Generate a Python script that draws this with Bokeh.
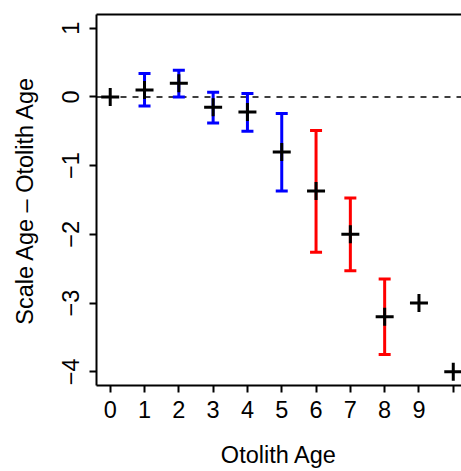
from bokeh.plotting import figure
from bokeh.models import Range1d, FixedTicker, LinearAxis, Span, ColumnDataSource
from bokeh.embed import file_html
from bokeh.resources import INLINE

# ---- data ----
otolith_age = [0, 1, 2, 3, 4, 5, 6, 7, 8, 9, 10]
mean_diff = [0.0, 0.1, 0.2, -0.15, -0.22, -0.8, -1.37, -2.0, -3.2, -3.0, -4.0]

bar_ages = [1, 2, 3, 4, 5, 6, 7, 8]
bar_low = [-0.13, 0.0, -0.38, -0.5, -1.37, -2.26, -2.53, -3.75]
bar_high = [0.34, 0.39, 0.07, 0.05, -0.24, -0.49, -1.47, -2.65]
bar_colors = ["#0000FF", "#0000FF", "#0000FF", "#0000FF", "#0000FF",
              "#FF0000", "#FF0000", "#FF0000"]

x_ticks = [0, 1, 2, 3, 4, 5, 6, 7, 8, 9, 10]
x_tick_labels = ["0", "1", "2", "3", "4", "5", "6", "7", "8", "9", ""]
y_ticks = [-4, -3, -2, -1, 0, 1]
y_tick_labels = ["\u22124", "\u22123", "\u22122", "\u22121", "0", "1"]

FONT = "Liberation Sans"
FS = "23.5px"

p = figure(width=461, height=471, output_backend="svg", toolbar_location=None,
           x_range=Range1d(-0.4, 10.24), y_range=Range1d(-4.2, 1.2),
           min_border_left=96, min_border_right=0, min_border_top=14,
           min_border_bottom=86, x_axis_label="Otolith Age",
           y_axis_label="Scale Age \u2013 Otolith Age")
p.outline_line_color = None
p.xgrid.visible = False
p.ygrid.visible = False
p.background_fill_color = "white"
p.border_fill_color = "white"

# axes
xa = p.xaxis[0]
xa.ticker = FixedTicker(ticks=x_ticks)
xa.major_label_overrides = {t: l for t, l in zip(x_ticks, x_tick_labels)}
ya = p.yaxis[0]
ya.ticker = FixedTicker(ticks=y_ticks)
ya.major_label_overrides = {t: l for t, l in zip(y_ticks, y_tick_labels)}
ya.major_label_orientation = "parallel"

for ax in (xa, ya):
    ax.axis_line_color = "black"
    ax.axis_line_width = 2
    ax.major_tick_line_color = "black"
    ax.major_tick_line_width = 2
    ax.major_tick_out = 7
    ax.major_tick_in = 0
    ax.minor_tick_line_color = None
    ax.major_label_text_font = FONT
    ax.major_label_text_font_size = FS
    ax.major_label_text_color = "black"
    ax.axis_label_text_font = FONT
    ax.axis_label_text_font_size = FS
    ax.axis_label_text_font_style = "normal"
    ax.axis_label_text_color = "black"
xa.major_label_standoff = 8
xa.axis_label_standoff = 21
ya.major_label_standoff = 10
ya.axis_label_standoff = 22

# top frame line
top = LinearAxis(ticker=FixedTicker(ticks=[0]), axis_line_color="black",
                 axis_line_width=2, major_tick_line_color=None,
                 minor_tick_line_color=None, major_tick_out=0, major_tick_in=0,
                 major_label_overrides={0: ""}, major_label_text_font_size="0px",
                 major_label_standoff=0)
p.add_layout(top, "above")

# reference line at zero
p.add_layout(Span(location=0, dimension="width", line_color="black",
                  line_width=1.6, line_dash="6 6", level="underlay"))

# error bars
bars = ColumnDataSource(dict(x=bar_ages, lo=bar_low, hi=bar_high, c=bar_colors))
p.segment(x0="x", y0="lo", x1="x", y1="hi", source=bars, line_color="c",
          line_width=3)
p.scatter(x="x", y="lo", source=bars, marker="dash", size=12, line_color="c",
          line_width=3)
p.scatter(x="x", y="hi", source=bars, marker="dash", size=12, line_color="c",
          line_width=3)

# means
p.scatter(x=otolith_age, y=mean_diff, marker="cross", size=18,
          line_color="black", line_width=3)

open("out.html", "w").write(file_html(p, INLINE))
